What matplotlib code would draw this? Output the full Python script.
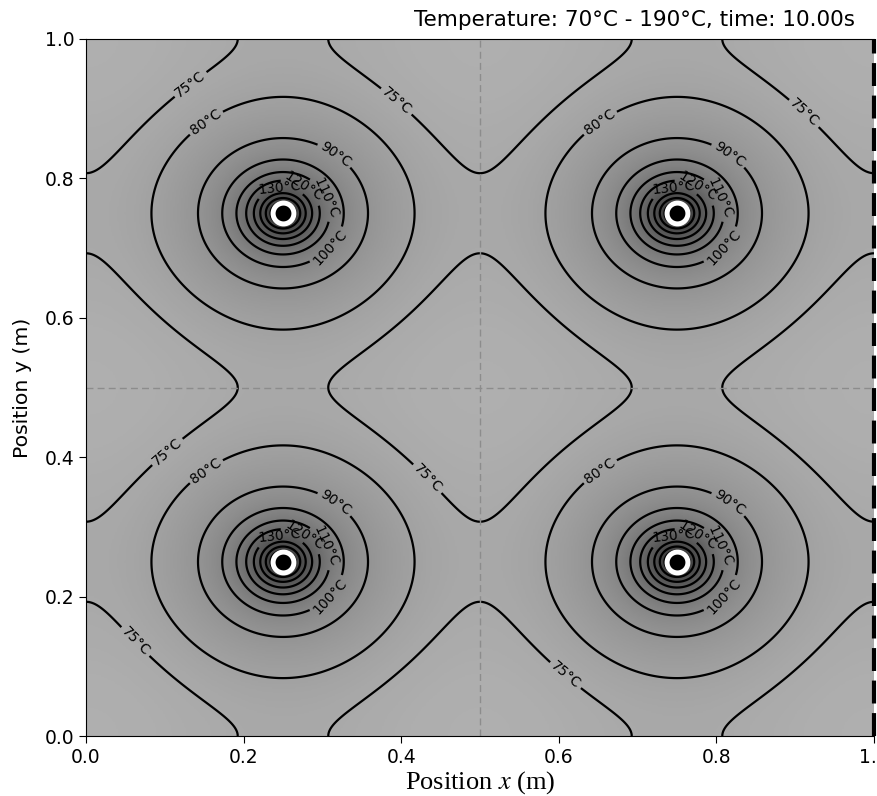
import numpy as np
import matplotlib
matplotlib.use("Agg")
from matplotlib import pyplot as plt
from matplotlib.colors import LinearSegmentedColormap, Normalize

plt.rcParams["mathtext.fontset"] = "stix"

# heat sources (m)
source_x = [0.25, 0.25, 0.75, 0.75]
source_y = [0.25, 0.75, 0.25, 0.75]

# field model parameters
t_base = 66.8      # degC
amp_log = 13.2     # degC, log part of each source
width_log = 0.27   # m
amp_core = 22.0    # degC, core bump
width_core = 0.045 # m
core_eps = 3.7e-4

t_min, t_max = 70, 190
time_s = 10.0

levels = [75, 80, 90, 100, 110, 120, 130, 140, 150, 160, 170, 180]

# label offsets from each source (same for all four)
label_offsets = {
    130: (-0.004, 0.036),
    120: (0.024, 0.033),
    110: (0.056, 0.023),
    100: (0.060, -0.050),
    90: (0.072, 0.094),
    80: (-0.102, 0.137),
}
labels_75 = [(0.136, 0.93), (0.392, 0.908), (0.906, 0.887), (0.09, 0.425),
             (0.434, 0.37), (0.065, 0.138), (0.612, 0.092)]

n = 500
xs = np.linspace(0, 1, n)
ys = np.linspace(0, 1, n)
X, Y = np.meshgrid(xs, ys)

T = np.full_like(X, t_base)
for sx, sy in zip(source_x, source_y):
    # mirror images for insulated walls
    for ix in (sx, -sx, 2 - sx):
        for iy in (sy, -sy, 2 - sy):
            r2 = (X - ix) ** 2 + (Y - iy) ** 2
            u = r2 / width_log ** 2
            T += amp_log * np.exp(-u) * np.log(1 + 1 / (u + core_eps))
            T += amp_core * np.exp(-r2 / width_core ** 2)
T = np.clip(T, t_min, t_max)

cmap = LinearSegmentedColormap.from_list(
    "heat_gray",
    [(0.0, "#b1b1b1"), (0.1, "#9e9e9e"), (0.25, "#868686"),
     (0.5, "#5e5e5e"), (1.0, "#1e1e1e")])

fig = plt.figure(figsize=(8.77, 7.96), dpi=100)
ax = fig.add_axes([86 / 877, 60 / 796, 788 / 877, 697 / 796])

ax.imshow(T, origin="lower", extent=[0, 1, 0, 1], cmap=cmap,
          norm=Normalize(t_min, t_max), interpolation="bilinear", aspect="auto")

fmt = lambda v: f"{v:.0f}°C"
for lv in levels:
    cs = ax.contour(X, Y, T, levels=[lv], colors="k", linewidths=1.6)
    if lv == 75:
        pos = labels_75
    elif lv in label_offsets:
        dx, dy = label_offsets[lv]
        pos = [(sx + dx, sy + dy) for sx, sy in zip(source_x, source_y)]
    else:
        continue
    ax.clabel(cs, manual=pos, fmt=fmt, fontsize=10, inline=True,
              inline_spacing=3)

ax.plot(source_x, source_y, "o", ms=15, mfc="k", mec="white", mew=3.6)

ax.axvline(0.5, color="#8c8c8c", ls="--", lw=1.0, dashes=(5, 3))
ax.axhline(0.5, color="#8c8c8c", ls="--", lw=1.0, dashes=(5, 3))
ax.axvline(1.0, color="k", ls="--", lw=3, dashes=(5.5, 2.3), clip_on=False)
ax.spines["right"].set_visible(False)

ax.set_xlim(0, 1)
ax.set_ylim(0, 1)
ax.tick_params(labelsize=13.5, length=5)
ax.set_ylabel("Position y (m)", fontsize=14.7, labelpad=9)
ax.set_xlabel("Position $x$ (m)", fontsize=19, family="Liberation Serif",
              labelpad=2)
fig.text(855 / 877, 1 - 20 / 796,
         f"Temperature: {t_min}°C - {t_max}°C, time: {time_s:.2f}s",
         ha="right", va="center", fontsize=15.5)

fig.savefig("out.png", dpi=100)
